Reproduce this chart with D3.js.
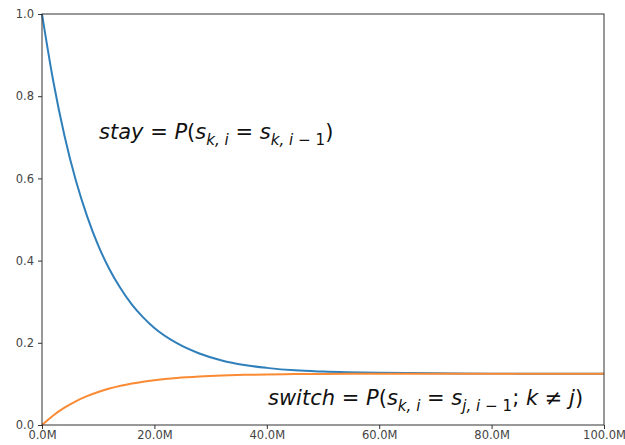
<!DOCTYPE html>
<html>
<head>
<meta charset="utf-8">
<script src="https://d3js.org/d3.v7.min.js"></script>
<style>
  body { margin: 0; background: #fff; }
  text { font-family: "DejaVu Sans", sans-serif; }
</style>
</head>
<body>
<div id="chart"></div>
<script>
// x positions (millions of generations)
var xs = [0, 2, 4, 6, 8, 10, 12, 14, 16, 18, 20, 24, 28, 32, 36, 40, 45, 50, 60, 70, 80, 90, 100];
var stay = [1.0, 0.837, 0.704, 0.596, 0.509, 0.437, 0.379, 0.332, 0.293, 0.262, 0.236, 0.199, 0.174, 0.157, 0.146, 0.139, 0.133, 0.130, 0.127, 0.126, 0.125, 0.125, 0.125];
var switchP = [0, 0.0233, 0.0422, 0.0577, 0.0702, 0.0804, 0.0887, 0.0955, 0.101, 0.1055, 0.1091, 0.1145, 0.118, 0.1204, 0.122, 0.123, 0.1238, 0.1243, 0.1247, 0.1249, 0.125, 0.125, 0.125];
var xTicks = [0, 20, 40, 60, 80, 100];
var yTicks = [0, 0.2, 0.4, 0.6, 0.8, 1.0];

const width = 625, height = 445;
const margin = {top: 14, right: 21, bottom: 20, left: 42};

const svg = d3.select('#chart').append('svg')
    .attr('width', width)
    .attr('height', height);

const x = d3.scaleLinear().domain([0, 100]).range([margin.left, width - margin.right]);
const y = d3.scaleLinear().domain([0, 1]).range([height - margin.bottom, margin.top]);

// lines
var line = d3.line()
    .x(d => x(d[0]))
    .y(d => y(d[1]))
    .curve(d3.curveMonotoneX);

svg.append('path')
    .datum(xs.map((v, i) => [v, stay[i]]))
    .attr('d', line)
    .attr('fill', 'none')
    .attr('stroke', '#2f7fba')
    .attr('stroke-width', 2);

svg.append('path')
    .datum(xs.map((v, i) => [v, switchP[i]]))
    .attr('d', line)
    .attr('fill', 'none')
    .attr('stroke', '#fa8a33')
    .attr('stroke-width', 2);

// frame
svg.append('rect')
    .attr('x', margin.left)
    .attr('y', margin.top)
    .attr('width', width - margin.left - margin.right)
    .attr('height', height - margin.top - margin.bottom)
    .attr('fill', 'none')
    .attr('stroke', '#333')
    .attr('stroke-width', 1);

// axes
var xAxis = svg.append('g')
    .attr('transform', 'translate(0,' + (height - margin.bottom) + ')')
    .call(d3.axisBottom(x).tickValues(xTicks).tickSize(4).tickPadding(2)
        .tickFormat(d => d.toFixed(1) + 'M'));
var yAxis = svg.append('g')
    .attr('transform', 'translate(' + margin.left + ',0)')
    .call(d3.axisLeft(y).tickValues(yTicks).tickSize(4).tickPadding(4)
        .tickFormat(d3.format('.1f')));

[xAxis, yAxis].forEach(function(g) {
    g.select('.domain').remove();
    g.selectAll('line').attr('stroke', '#333');
    g.selectAll('text')
        .attr('fill', '#444')
        .style('font-family', '"DejaVu Sans", sans-serif')
        .style('font-size', '11.5px');
});

// annotations: array of [text, style] pieces
function mathText(px, py, size, parts) {
    var t = svg.append('text')
        .attr('x', px)
        .attr('y', py)
        .attr('font-size', size)
        .attr('fill', '#111');
    var level = 0;
    parts.forEach(function(p) {
        var sub = p.sub ? 1 : 0;
        var span = t.append('tspan')
            .text(p.t)
            .attr('font-style', p.i ? 'italic' : 'normal')
            .attr('font-size', sub ? size * 0.72 : size);
        if (sub !== level) {
            span.attr('dy', (sub - level) * size * 0.27);
            level = sub;
        }
    });
}

mathText(99, 139, 21, [
    {t: 'stay', i: 1}, {t: ' = '}, {t: 'P', i: 1}, {t: '('}, {t: 's', i: 1},
    {t: 'k, i', i: 1, sub: 1}, {t: ' = '}, {t: 's', i: 1},
    {t: 'k, i', i: 1, sub: 1}, {t: ' \u2212 1', sub: 1}, {t: ')'}
]);

mathText(268, 405, 21, [
    {t: 'switch', i: 1}, {t: ' = '}, {t: 'P', i: 1}, {t: '('}, {t: 's', i: 1},
    {t: 'k, i', i: 1, sub: 1}, {t: ' = '}, {t: 's', i: 1},
    {t: 'j, i', i: 1, sub: 1}, {t: ' \u2212 1', sub: 1}, {t: '; '}, {t: 'k', i: 1},
    {t: ' \u2260 '}, {t: 'j', i: 1}, {t: ')'}
]);
</script>
</body>
</html>
